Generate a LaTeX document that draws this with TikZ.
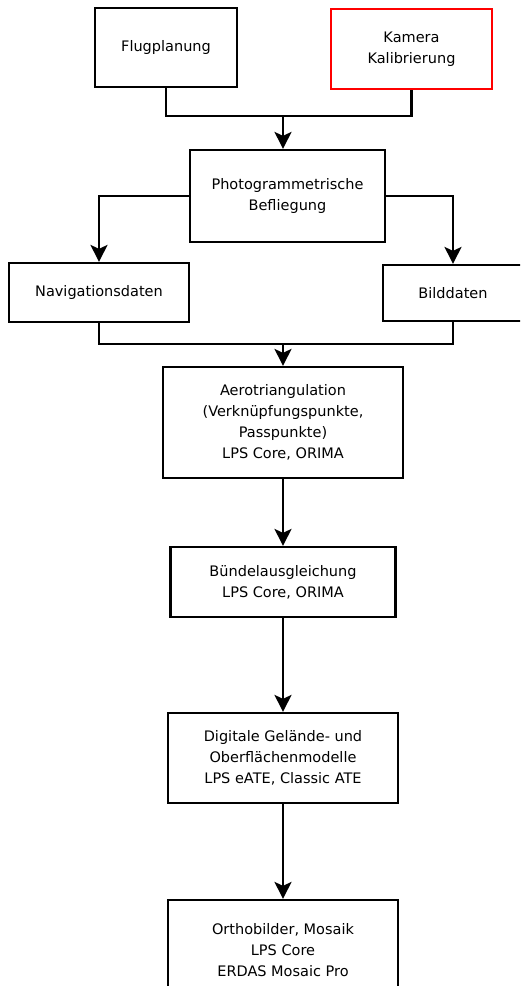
\documentclass[tikz,border=0pt]{standalone}
\usepackage{fontspec}
\setmainfont{DejaVu Sans}
\usetikzlibrary{arrows.meta}

\begin{document}
\begin{tikzpicture}[x=1pt,y=-1pt,
		box/.style={draw,line width=2.2pt,align=center,inner sep=0pt,
			font=\fontsize{14.5}{21}\selectfont},
		flow/.style={line width=2.2pt,-{Stealth[length=17pt,width=17pt,inset=4pt]}},
		line/.style={line width=2.2pt}]
		\clip (0,0) rectangle (520,986);

		\node[box,minimum width=142pt,minimum height=79pt] (flug) at (166,47.5) {Flugplanung};
		\node[box,draw=red,minimum width=161pt,minimum height=80pt] (kamera) at (411.5,49) {Kamera\\Kalibrierung};
		\node[box,minimum width=195pt,minimum height=92pt] (photo) at (287.5,196) {Photogrammetrische\\Befliegung};

		\node[box,minimum width=180pt,minimum height=59pt] (nav) at (99,292.5) {Navigationsdaten};
		\node[box,minimum width=140pt,minimum height=56pt] (bild) at (453,293) {Bilddaten};

		\node[box,minimum width=240pt,minimum height=111pt] (aero) at (283,422.5)
			{Aerotriangulation\\(Verknüpfungspunkte,\\Passpunkte)\\LPS Core, ORIMA};
		\node[box,minimum width=225pt,minimum height=70pt] (buendel) at (283,582)
			{Bündelausgleichung\\LPS Core, ORIMA};
		\node[box,minimum width=230pt,minimum height=90pt] (dgm) at (283,758)
			{Digitale Gelände- und\\Oberflächenmodelle\\LPS eATE, Classic ATE};
		\node[box,minimum width=230pt,minimum height=100pt] (ortho) at (283,950)
			{Orthobilder, Mosaik\\LPS Core\\ERDAS Mosaic Pro};

		\coordinate (j1) at (283,116);
		\coordinate (j2) at (283,344);

		\draw[line] (flug.south) |- (j1) -| (kamera.south);
		\draw[flow] (j1) -- (j1 |- photo.north);
		\draw[flow] (photo.west) -| (nav.north);
		\draw[flow] (photo.east) -| (bild.north);

		\draw[line] (nav.south) |- (j2) -| (bild.south);
		\draw[flow] (j2) -- (aero.north);
		\draw[flow] (aero.south) -- (buendel.north);
		\draw[flow] (buendel.south) -- (dgm.north);
		\draw[flow] (dgm.south) -- (ortho.north);
	\end{tikzpicture}
\end{document}
